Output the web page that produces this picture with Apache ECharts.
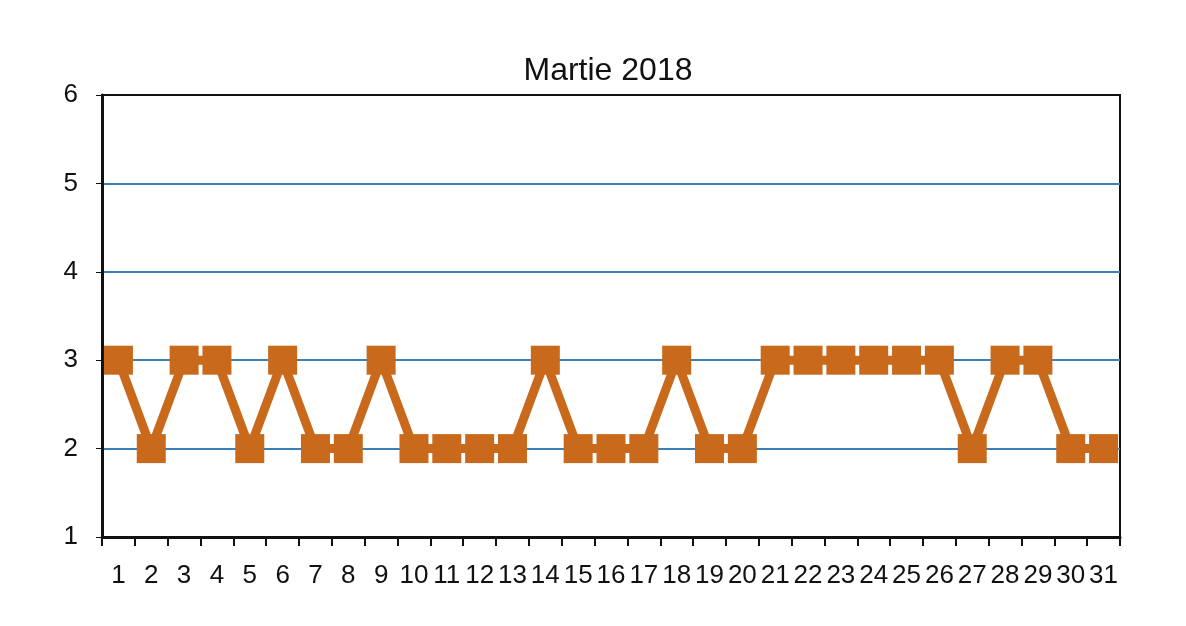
<!DOCTYPE html>
<html><head><meta charset="utf-8">
<script src="https://cdn.jsdelivr.net/npm/echarts@6/dist/echarts.min.js"></script>
<style>html,body{margin:0;padding:0;background:#fff}#c{width:1186px;height:626px}</style>
</head><body><div id="c"></div>
<script>
const days = ['1','2','3','4','5','6','7','8','9','10','11','12','13','14','15','16','17','18','19','20','21','22','23','24','25','26','27','28','29','30','31'];
const values = [3,2,3,3,2,3,2,2,3,2,2,2,2,3,2,2,2,3,2,2,3,3,3,3,3,3,2,3,3,2,2];
const yTicks = [1,2,3,4,5,6];
const chart = echarts.init(document.getElementById('c'));
chart.setOption({
  animation:false,
  backgroundColor:'#fff',
  title:{text:'Martie 2018',left:603,top:50,textAlign:'center',textStyle:{fontFamily:'Liberation Sans',fontSize:32,fontWeight:'normal',color:'#111'}},
  grid:{left:102,right:66,top:95,bottom:89,show:true,borderColor:'#111',borderWidth:2,backgroundColor:'transparent'},
  xAxis:{type:'category',data:days,boundaryGap:true,
    axisLine:{lineStyle:{color:'#111',width:3}},
    axisTick:{show:true,alignWithLabel:false,length:9,lineStyle:{color:'#111',width:2}},
    axisLabel:{fontFamily:'Liberation Sans',fontSize:26,color:'#111',margin:26,interval:0}},
  yAxis:{type:'value',min:yTicks[0],max:yTicks[yTicks.length-1],interval:1,
    axisLine:{show:true,lineStyle:{color:'#111',width:3}},
    axisTick:{show:true,length:6,lineStyle:{color:'#111'}},
    axisLabel:{fontFamily:'Liberation Sans',fontSize:26,color:'#111',margin:24},
    splitLine:{lineStyle:{color:['#3a7fb5','#3a7fb5','#3a7fb5','#3a7fb5','#3a7fb5','#111'],width:2}}},
  series:[{type:'line',data:values,symbol:'rect',symbolSize:29,
    lineStyle:{color:'#c8691c',width:9},
    itemStyle:{color:'#c8691c'}}]
});
</script></body></html>
